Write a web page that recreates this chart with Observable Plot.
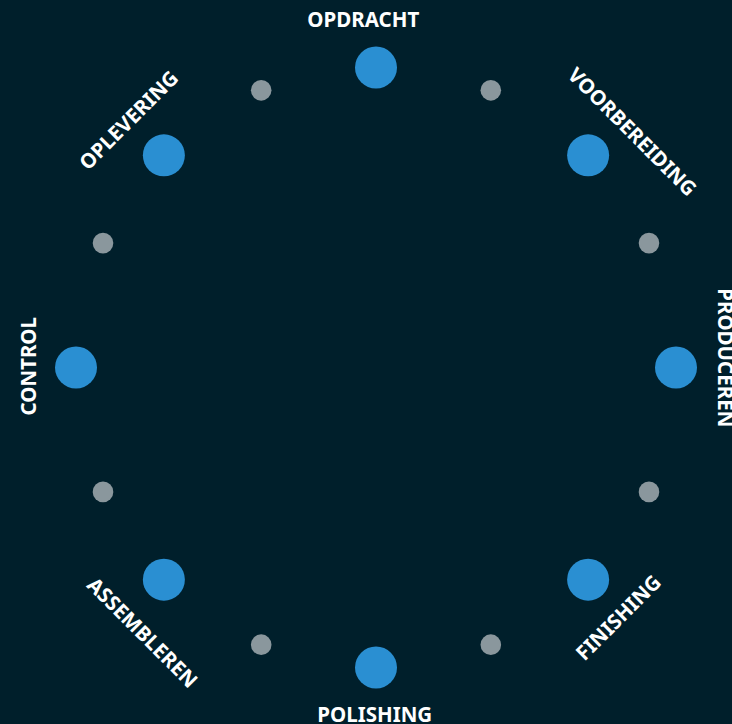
<!DOCTYPE html>
<html>
<head>
<meta charset="utf-8">
<script src="https://cdn.jsdelivr.net/npm/d3@7"></script>
<script src="https://cdn.jsdelivr.net/npm/@observablehq/plot@0.6"></script>
<style>
  html, body { margin: 0; padding: 0; background: #001f2b; }
  #chart svg { display: block; }
</style>
</head>
<body>
<div id="chart"></div>
<script>
// Stages of the cycle, clockwise from the top
const stages = ["OPDRACHT", "VOORBEREIDING", "PRODUCEREN", "FINISHING", "POLISHING", "ASSEMBLEREN", "CONTROL", "OPLEVERING"];
// Angle (degrees clockwise from top) of each stage circle
const stageAngles = [0, 45, 90, 135, 180, 225, 270, 315];
// Angles of the small connector dots between stages
const connectorAngles = [22.5, 65.5, 114.5, 157.5, 202.5, 245.5, 294.5, 337.5];
const labelAngles = [-2.1, 47.4, 88.4, 135.9, 180.2, 221.4, 270.2, 315];
const labelRadii = [347, 347.5, 348.5, 349, 348, 354, 347, 349];
const labelRotations = [0, 45, 90, -45, 0, 45, -90, -45];

const ringRadius = 300;

const toXY = (deg, r) => ({
  x: r * Math.sin(deg * Math.PI / 180),
  y: r * Math.cos(deg * Math.PI / 180)
});

const stageData = stages.map((name, i) => ({name, ...toXY(stageAngles[i], ringRadius)}));
const connectorData = connectorAngles.map(a => ({angle: a, ...toXY(a, ringRadius)}));
const labelData = stages.map((name, i) => ({name, rotate: labelRotations[i], ...toXY(labelAngles[i], labelRadii[i])}));

const W = 732, H = 724, cx = 375.5, cy = 367;

const chart = Plot.plot({
  width: W,
  height: H,
  margin: 0,
  style: {background: "#001f2b", overflow: "visible"},
  x: {domain: [-cx, W - cx], axis: null},
  y: {domain: [-(H - cy), cy], axis: null},
  marks: [
    Plot.dot(connectorData, {x: "x", y: "y", r: 10.3, fill: "#8a979d", stroke: "none"}),
    Plot.dot(stageData, {x: "x", y: "y", r: 21, fill: "#2a8fd2", stroke: "none"}),
    Plot.text(labelData, {
      x: "x", y: "y", text: "name", rotate: "rotate",
      fill: "#ffffff", fontSize: 20.5, fontWeight: 700,
      fontFamily: "'Noto Sans', sans-serif",
      textAnchor: "middle", lineAnchor: "middle"
    })
  ]
});
document.getElementById("chart").appendChild(chart);
</script>
</body>
</html>
